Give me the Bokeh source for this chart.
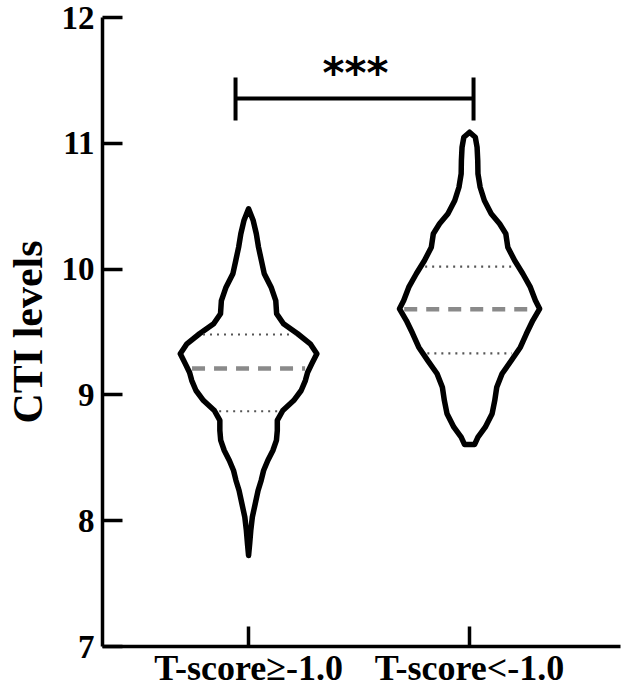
import numpy as np
from bokeh.plotting import figure
from bokeh.models import Range1d, FixedTicker
from bokeh.core.properties import value
from bokeh.embed import file_html
from bokeh.resources import INLINE

# ---------------- data ----------------
groups = ["T-score\u2265-1.0", "T-score<-1.0"]
positions = [0, 1]

# violin outlines: CTI level (y) and half width of the density (x units)
g1_levels = [10.479, 10.386, 10.281, 10.174, 10.068, 9.963, 9.856, 9.750, 9.645,
             9.565, 9.486, 9.406, 9.327, 9.247, 9.178, 9.114, 9.035, 8.955,
             8.876, 8.797, 8.717, 8.638, 8.558, 8.479, 8.399, 8.320, 8.240,
             8.134, 8.028, 7.922, 7.816, 7.723]
g1_halfwidth = [0.0, 0.021, 0.035, 0.045, 0.058, 0.071, 0.102, 0.123, 0.127,
                0.158, 0.222, 0.279, 0.309, 0.286, 0.267, 0.257, 0.238, 0.204,
                0.155, 0.130, 0.130, 0.126, 0.110, 0.087, 0.068, 0.057, 0.043,
                0.030, 0.017, 0.010, 0.005, 0.0]

g2_levels = [11.088, 11.048, 10.969, 10.863, 10.758, 10.651, 10.545, 10.440,
             10.360, 10.281, 10.174, 10.068, 9.963, 9.856, 9.750, 9.684, 9.591,
             9.486, 9.379, 9.273, 9.168, 9.061, 8.955, 8.850, 8.743, 8.664, 8.606]
g2_halfwidth = [0.0, 0.026, 0.034, 0.037, 0.038, 0.048, 0.067, 0.098, 0.136,
                0.164, 0.173, 0.204, 0.241, 0.275, 0.298, 0.317, 0.286, 0.257,
                0.230, 0.189, 0.147, 0.123, 0.114, 0.102, 0.071, 0.038, 0.023]

medians = [9.21, 9.68]
quartile1 = [8.87, 9.33]
quartile3 = [9.48, 10.02]

y_ticks = [7, 8, 9, 10, 11, 12]
y_label = "CTI levels"

sig_text = "***"
sig_left, sig_right = -0.059, 1.018
sig_y = 11.356
sig_y_low, sig_y_high = 11.181, 11.523
sig_text_x, sig_text_y = 0.484, 11.555

# ---------------- figure ----------------
p = figure(width=624, height=690, x_range=Range1d(-0.661, 1.683), y_range=Range1d(7, 12),
           output_backend="svg", toolbar_location=None,
           min_border_left=102, min_border_right=4, min_border_top=17, min_border_bottom=44)
p.outline_line_color = None
p.grid.visible = False
p.background_fill_color = "white"
p.border_fill_color = "white"

serif = "Liberation Serif"

# axes styling
for ax in (p.xaxis[0], p.yaxis[0]):
    ax.axis_line_width = 3.5
    ax.axis_line_color = "black"
    ax.major_tick_line_width = 3.5
    ax.major_tick_line_color = "black"
    ax.major_tick_in = 20
    ax.major_tick_out = 0
    ax.minor_tick_line_color = None
    ax.major_label_text_font = serif
    ax.major_label_text_font_style = "bold"
    ax.major_label_text_color = "black"

p.yaxis.ticker = FixedTicker(ticks=y_ticks)
p.yaxis.major_label_text_font_size = "33px"
p.yaxis.major_label_standoff = 8
p.yaxis.axis_label = y_label
p.yaxis.axis_label_text_font = serif
p.yaxis.axis_label_text_font_style = "bold"
p.yaxis.axis_label_text_font_size = "42px"
p.yaxis.axis_label_text_color = "black"
p.yaxis.axis_label_standoff = 8

p.xaxis.ticker = FixedTicker(ticks=positions)
p.xaxis.major_label_overrides = {pos: g for pos, g in zip(positions, groups)}
p.xaxis.major_label_text_font_size = "36px"
p.xaxis.major_label_standoff = 1

# violins
outlines = [(g1_levels, g1_halfwidth), (g2_levels, g2_halfwidth)]
for pos, (lev, hw), med, qa, qb in zip(positions, outlines, medians, quartile1, quartile3):
    lev = np.array(lev)
    hw = np.array(hw)
    xs = np.concatenate([pos + hw, (pos - hw)[::-1]])
    ys = np.concatenate([lev, lev[::-1]])
    p.patch(xs, ys, fill_color="white", line_color="black", line_width=5.5,
            line_join="round")
    order = np.argsort(lev)
    for yv, color, dash, lw in [(med, "#8a8a8a", "13 9", 4.5),
                                (qa, "#555555", "2 5", 2.2),
                                (qb, "#555555", "2 5", 2.2)]:
        w = np.interp(yv, lev[order], hw[order]) - 0.02
        p.line([pos - w, pos + w], [yv, yv], line_color=color, line_dash=dash,
               line_width=lw)

# significance bracket
p.line([sig_left, sig_right], [sig_y, sig_y], line_color="black", line_width=4)
p.line([sig_left, sig_left], [sig_y_low, sig_y_high], line_color="black", line_width=4)
p.line([sig_right, sig_right], [sig_y_low, sig_y_high], line_color="black", line_width=4)
p.text(x=[sig_text_x], y=[sig_text_y], text=[sig_text], text_font=value("DejaVu Sans"),
       text_font_style="bold", text_font_size="42px", text_align="center",
       text_baseline="middle", text_color="black")

open("out.html", "w").write(file_html(p, INLINE))
